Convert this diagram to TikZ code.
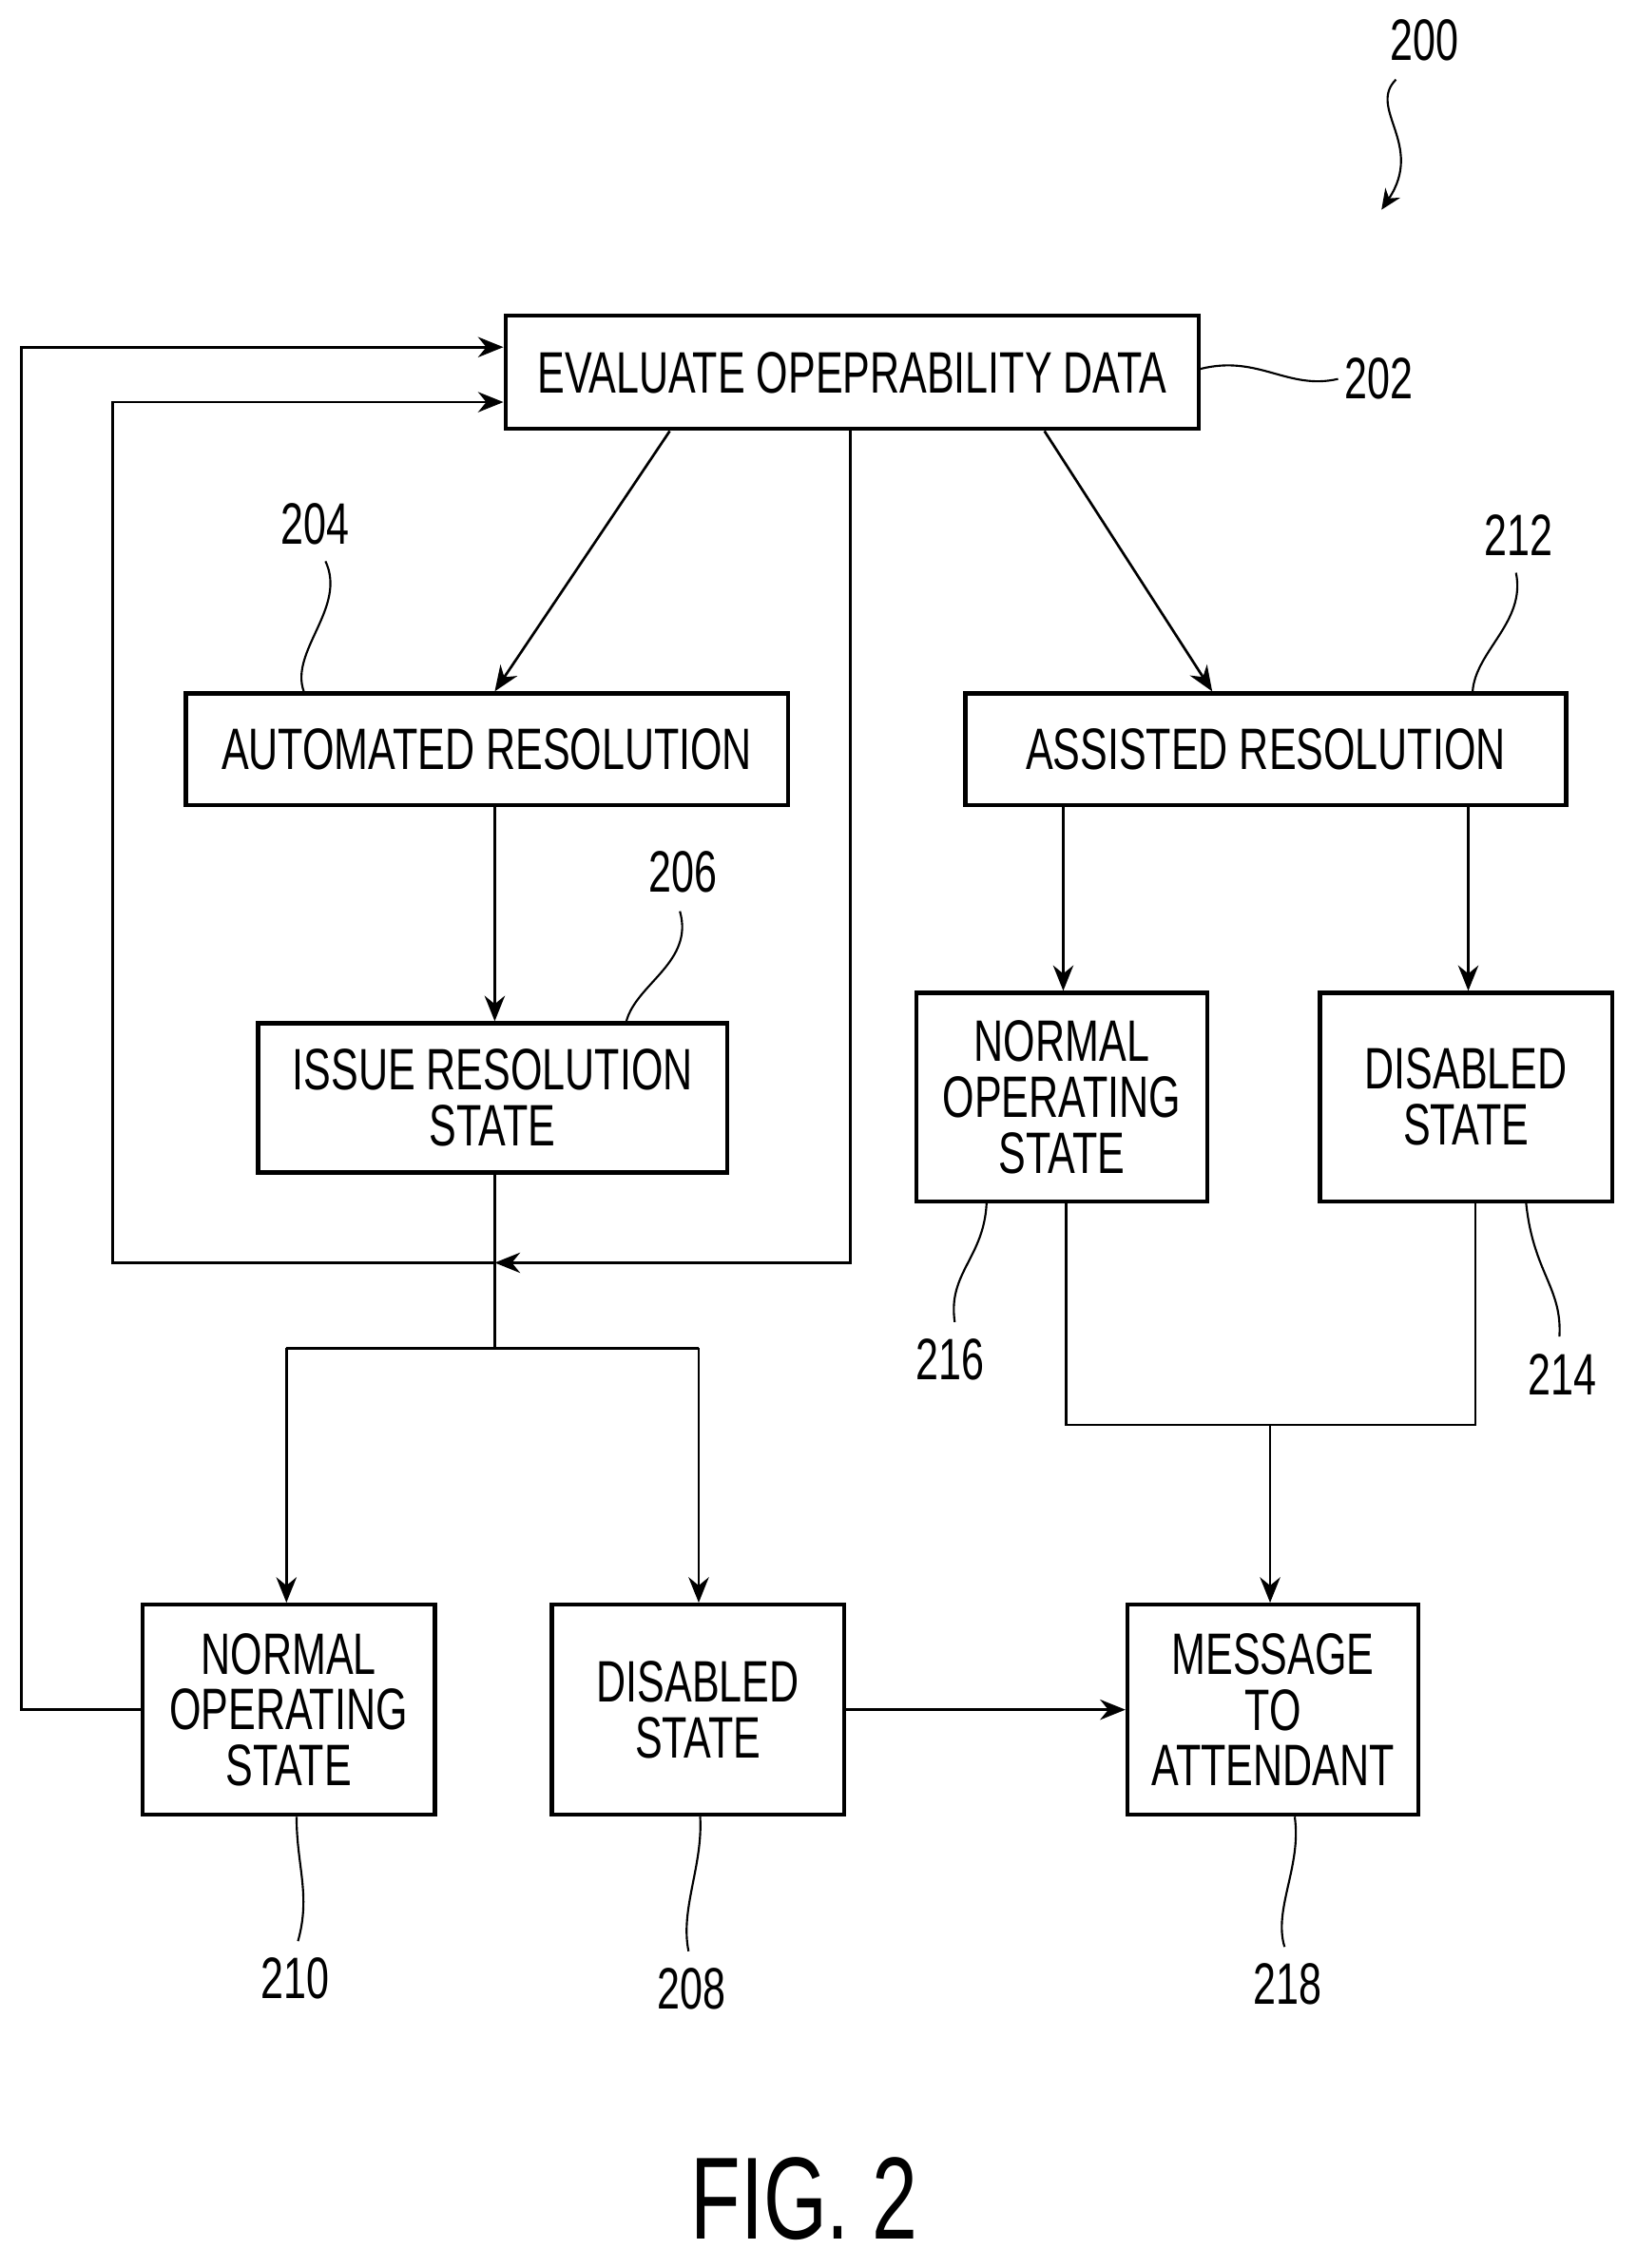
\documentclass[tikz,border=0pt]{standalone}
\usepackage{fontspec}
\setmainfont{Liberation Sans}[FakeStretch=0.7]
\usetikzlibrary{arrows.meta}
\begin{document}
\begin{tikzpicture}[x=0.02cm,y=-0.02cm,
  box/.style={draw,line width=1.6pt,inner sep=0pt,align=center,font=\fontsize{23}{22}\selectfont},
  ar/.style={-{Stealth[length=10pt,width=8pt]},line width=1pt},
  ln/.style={line width=1pt},
  lab/.style={font=\fontsize{23}{25}\selectfont},
  sq/.style={line width=0.8pt}]
\useasboundingbox (0,0) rectangle (1131,1568);
\newcommand{\bx}[6]{\node[box,minimum width=#4*0.02cm-1.6pt,minimum height=#5*0.02cm-1.6pt] (#1) at (#2,#3) {#6};}
\bx{b202}{589}{257.5}{482}{81}{EVALUATE OPEPRABILITY DATA}
\bx{b204}{336.5}{518}{419}{80}{AUTOMATED RESOLUTION}
\bx{b206}{340.5}{759}{327}{106}{ISSUE RESOLUTION\\STATE}
\bx{b212}{875}{518}{418}{80}{ASSISTED RESOLUTION}
\bx{b216}{734}{758.5}{204}{147}{NORMAL\\OPERATING\\STATE}
\bx{b214}{1013.5}{758.5}{205}{147}{DISABLED\\STATE}
\bx{b210}{199.5}{1182}{205}{148}{NORMAL\\OPERATING\\STATE}
\bx{b208}{482.5}{1182}{205}{148}{DISABLED\\STATE}
\bx{b218}{880}{1182}{204}{148}{MESSAGE\\TO\\ATTENDANT}
\coordinate (j1) at (342,932);
\coordinate (j2) at (878,985);
% arrows
\draw[ar] (463,298) -- (342,478);
\draw[ar] (722,298) -- (838,478);
\draw[ar] (342,558) -- (342,706);
\draw[ar] (588,298) -- (588,873) -- (342,873);
\draw[ar] (342,873) -- (78,873) -- (78,278) -- (348,278);
\draw[ln] (342,812) -- (j1);
\draw[ln] (198,932) -- (483,932);
\draw[ar] (198,932) -- (198,1108);
\draw[ar] (483,932) -- (483,1108);
\draw[ar] (97,1182) -- (15,1182) -- (15,240) -- (348,240);
\draw[ar] (585,1182) -- (778,1182);
\draw[ar] (735,558) -- (735,685);
\draw[ar] (1015,558) -- (1015,685);
\draw[ln] (737,832) -- (737,985) -- (1020,985) -- (1020,832);
\draw[ar] (j2) -- (878,1108);
% labels
\node[lab] (l200) at (985,28) {200};
\draw[sq,-{Stealth[length=8pt,width=7pt]}] (965,55) .. controls (945,75) and (985,100) .. (955,145);
\node[lab] (l202) at (953,262) {202};
\draw[sq] (830,255) .. controls (870,245) and (890,270) .. (925,262);
\node[lab] (l204) at (218,362) {204};
\draw[sq] (225,388) .. controls (240,420) and (200,450) .. (210,478);
\node[lab] (l206) at (472,603) {206};
\draw[sq] (470,630) .. controls (480,665) and (440,680) .. (433,706);
\node[lab] (l212) at (1050,370) {212};
\draw[sq] (1048,396) .. controls (1055,430) and (1020,450) .. (1018,478);
\node[lab] (l216) at (657,940) {216};
\draw[sq] (682,832) .. controls (680,870) and (655,880) .. (660,914);
\node[lab] (l214) at (1080,950) {214};
\draw[sq] (1055,832) .. controls (1060,880) and (1080,890) .. (1078,924);
\node[lab] (l210) at (204,1368) {210};
\draw[sq] (205,1256) .. controls (205,1290) and (215,1310) .. (206,1342);
\node[lab] (l208) at (478,1375) {208};
\draw[sq] (484,1256) .. controls (486,1290) and (470,1320) .. (476,1349);
\node[lab] (l218) at (890,1372) {218};
\draw[sq] (895,1256) .. controls (900,1290) and (880,1320) .. (888,1346);
\node[font=\fontsize{46}{48}\selectfont] (fig) at (556,1520) {FIG. 2};
\end{tikzpicture}
\end{document}
